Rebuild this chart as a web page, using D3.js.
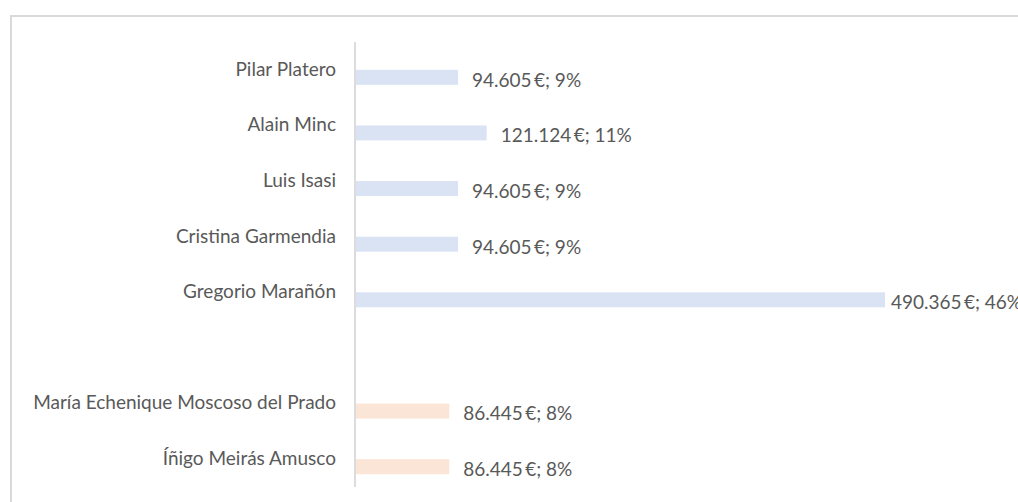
<!DOCTYPE html>
<html>
<head>
  <meta charset="UTF-8">
  <title>Retribuciones</title>
  <script src="https://d3js.org/d3.v7.min.js"></script>
  <style>
    body { margin: 0; background: #fff; overflow: hidden; }
    text { font-family: Lato, "Open Sans", sans-serif; fill: #595959; }
  </style>
</head>
<body>
  <script>
    // categories top to bottom, empty string is the gap row
    var names = ["Pilar Platero", "Alain Minc", "Luis Isasi", "Cristina Garmendia",
      "Gregorio Marañón", "", "María Echenique Moscoso del Prado", "Íñigo Meirás Amusco"];
    var values = [94605, 121124, 94605, 94605, 490365, null, 86445, 86445];
    var shares = ["9%", "11%", "9%", "9%", "46%", "", "8%", "8%"];
    var groups = ["a", "a", "a", "a", "a", "", "b", "b"];

    var colors = { a: "#dae3f3", b: "#fbe5d6" };

    var width = 1018, height = 502;

    var svg = d3.select("body")
      .append("svg")
      .attr("width", width)
      .attr("height", height);

    // chart frame
    svg.append("rect")
      .attr("x", 11)
      .attr("y", 16)
      .attr("width", 1030)
      .attr("height", 520)
      .attr("fill", "none")
      .attr("stroke", "#d9d9d9")
      .attr("stroke-width", 2);

    var data = names.map(function (n, i) {
      return { name: n, value: values[i], share: shares[i], group: groups[i], key: "c" + i };
    });

    var yScale = d3.scaleBand()
      .domain(data.map(function (d) { return d.key; }))
      .range([42, 487]);

    var xScale = d3.scaleLinear()
      .domain([0, d3.max(values)])
      .range([356, 885]);

    var bandH = yScale.bandwidth();

    // category labels
    svg.selectAll(".cat")
      .data(data)
      .enter()
      .append("text")
      .attr("class", "cat")
      .attr("x", 336)
      .attr("y", function (d) { return yScale(d.key) + bandH / 2 + 1; })
      .attr("text-anchor", "end")
      .attr("dominant-baseline", "middle")
      .style("font-size", "19px")
      .text(function (d) { return d.name; });

    var rows = data.filter(function (d) { return d.value !== null; });

    svg.selectAll(".bar")
      .data(rows)
      .enter()
      .append("rect")
      .attr("class", "bar")
      .attr("x", xScale(0))
      .attr("y", function (d) { return yScale(d.key) + bandH / 2; })
      .attr("width", function (d) { return xScale(d.value) - xScale(0); })
      .attr("height", 15)
      .attr("fill", function (d) { return colors[d.group]; });

    var fmt = d3.formatLocale({ decimal: ",", thousands: ".", grouping: [3], currency: ["", " €"] }).format(",d");

    svg.selectAll(".val")
      .data(rows)
      .enter()
      .append("text")
      .attr("class", "val")
      .attr("x", function (d) { return xScale(d.value) + (d.value === d3.max(values) ? 6 : 14); })
      .attr("y", function (d) { return yScale(d.key) + bandH / 2 + 12; })
      .attr("dominant-baseline", "middle")
      .style("font-size", "19px")
      .text(function (d) { return fmt(d.value) + "\u2009€; " + d.share; });

    // category axis line
    svg.append("line")
      .attr("x1", xScale(0) - 1)
      .attr("x2", xScale(0) - 1)
      .attr("y1", 42)
      .attr("y2", 487)
      .attr("stroke", "#d0d0d0")
      .attr("stroke-width", 1.5);
  </script>
</body>
</html>
